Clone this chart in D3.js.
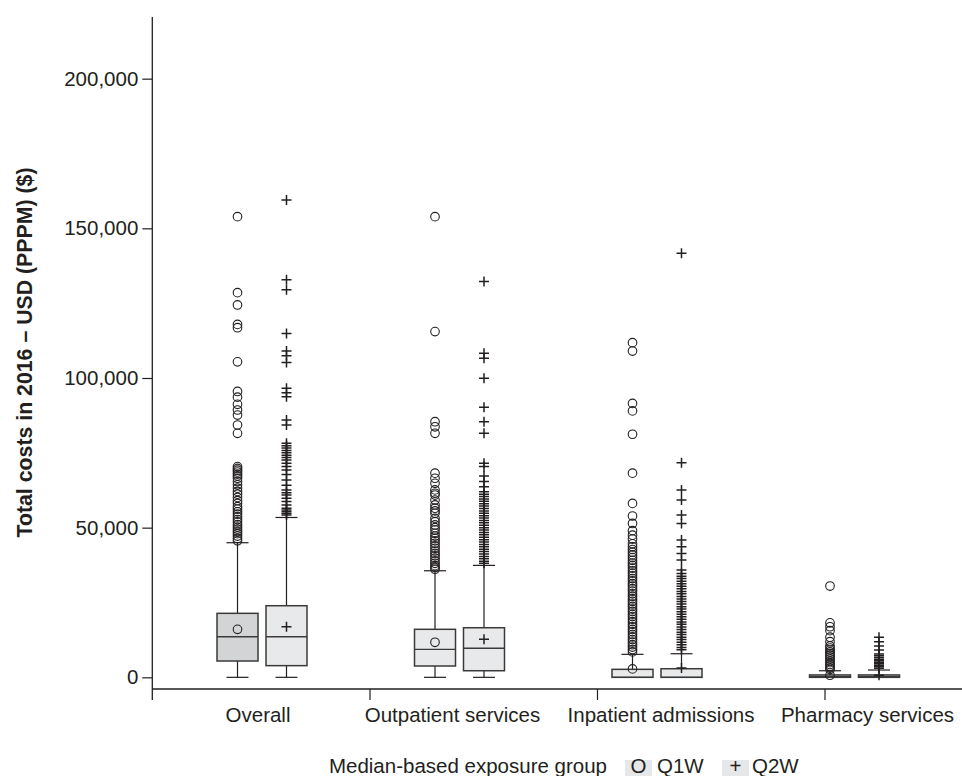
<!DOCTYPE html>
<html>
<head>
<meta charset="utf-8">
<script src="https://cdn.jsdelivr.net/npm/d3@7"></script>
<style>
  body { margin: 0; background: #fff; }
  svg { display: block; }
  text { font-family: "Liberation Sans", Arial, Helvetica, sans-serif; fill: #231f20; }
</style>
</head>
<body>
<svg id="chart" width="962" height="776"></svg>
<script>
// ---------------- DATA ----------------
const categories = ["Overall", "Outpatient services", "Inpatient admissions", "Pharmacy services"];
const groups = ["Q1W", "Q2W"];
const yTicks = [0, 50000, 100000, 150000, 200000];
const yTitle = "Total costs in 2016 \u2013 USD (PPPM) ($)";
const legendTitle = "Median-based exposure group";

// Q1W box statistics per category
const q1wLow    = [0, 0, 0, 0];
const q1wQ1     = [5450, 3780, 0, 0];
const q1wMedian = [13570, 9350, 0, 300];
const q1wQ3     = [21380, 16040, 2670, 800];
const q1wHigh   = [44970, 35600, 7680, 2200];
const q1wMean   = [16040, 11700, 2800, 700];

// Q2W box statistics per category
const q2wLow    = [0, 0, 0, 0];
const q2wQ1     = [3900, 2200, 0, 0];
const q2wMedian = [13570, 9690, 0, 300];
const q2wQ3     = [23920, 16570, 2870, 800];
const q2wHigh   = [53400, 37400, 7880, 2440];
const q2wMean   = [16900, 12700, 3100, 700];

// Outliers
const q1wOutliers = [
  [153900, 128500, 124400, 117900, 116800, 105400, 95500, 93600, 91200, 89300, 87600, 84300, 81500,
   70400, 69800, 69200, 68600, 67900, 67300, 66500, 65400, 64300, 63200, 62100, 61200, 60100, 59000,
   58100, 57000, 56200, 55300, 54500, 53600, 52700, 51900, 51000, 50200, 49500, 48700, 48000, 47200,
   46400, 45600],
  [153900, 115500, 85400, 83700, 81500, 68200, 66500, 64800, 62600, 61500, 60900, 59200, 57600, 56500,
   55600, 54800, 53100, 52000, 50900, 50000, 49200, 48100, 47200, 46400, 45600, 44800, 43900, 43100,
   42200, 41400, 40600, 39800, 38900, 38100, 37300, 36700, 36100],
  [111800, 109000, 91500, 89000, 81200, 68200, 58100, 53900, 51400, 49000, 47500, 46200, 44600, 43600,
   42700, 41800, 40900, 40000, 39100, 38200, 37400, 36500, 35600, 34800, 33900, 33000, 32200, 31300,
   30500, 29600, 28800, 27900, 27100, 26200, 25400, 24500, 23700, 22800, 22000, 21100, 20300, 19400,
   18600, 17700, 16900, 16000, 15200, 14300, 13500, 12600, 11800, 10900, 10100, 9300, 8500],
  [30500, 18200, 16900, 15600, 13400, 11900, 10500, 9800, 9100, 8500, 7900, 7300, 6700, 6100, 5500,
   4900, 4300, 3700, 3100, 2600]
];
const q2wOutliers = [
  [159500, 132800, 129500, 114900, 109000, 107400, 105200, 96600, 95100, 93700, 86000, 84300, 78200,
   77400, 76600, 75800, 75000, 74200, 73400, 72600, 71500, 70400, 69300, 67800, 65900, 64200, 62600,
   61700, 60900, 59800, 58700, 57600, 56500, 55900, 55300, 54700, 54200],
  [132200, 108300, 106600, 99900, 90200, 85400, 81500, 71500, 70400, 67300, 65400, 63700, 62000, 61200,
   60400, 59600, 58800, 58000, 57200, 56400, 55600, 54800, 54000, 53200, 52400, 51600, 50800, 50000,
   49200, 48400, 47600, 46800, 46000, 45200, 44400, 43600, 42800, 42000, 41200, 40400, 39600, 38800,
   38100],
  [141700, 71700, 62600, 59200, 54200, 51400, 45900, 43600, 41400, 39200, 35850, 34700, 33800, 33000,
   32100, 31300, 30400, 29600, 28700, 27900, 27000, 26200, 25300, 24500, 23600, 22800, 21900, 21100,
   20200, 19400, 18500, 17700, 16800, 16000, 15100, 14300, 13400, 12600, 11700, 10900, 10000, 9200],
  [13400, 11900, 10500, 9100, 7800, 7200, 6600, 6000, 5500, 5000, 4500, 4000, 3500, 3000]
];

// ---------------- LAYOUT ----------------
const svg = d3.select("#chart");
const ink = "#231f20";
const fontSize = 20.5;

const y = d3.scaleLinear().domain([-3900, 220600]).range([689, 17]);
const x = d3.scaleBand().domain(categories).range([163.25, 953.25]);
const inner = d3.scaleBand().domain(groups).range([-45, 45]).paddingInner(0.163);
const tickScale = d3.scaleBand().domain(categories).range([142.5, 1052.5]);
const axisX = 152.3;
const baseY = y(-3900);

const stats = {
  Q1W: { low: q1wLow, q1: q1wQ1, med: q1wMedian, q3: q1wQ3, high: q1wHigh, mean: q1wMean, out: q1wOutliers },
  Q2W: { low: q2wLow, q1: q2wQ1, med: q2wMedian, q3: q2wQ3, high: q2wHigh, mean: q2wMean, out: q2wOutliers }
};

// ---------------- AXES ----------------
// y axis
const yAxis = svg.append("g")
  .attr("transform", `translate(${axisX},0)`)
  .call(d3.axisLeft(y).tickValues(yTicks).tickSize(10).tickPadding(4).tickFormat(d3.format(",")));
yAxis.select(".domain").remove();
yAxis.selectAll(".tick line").attr("stroke", ink).attr("stroke-width", 1.2);
yAxis.selectAll(".tick text")
  .style("font-size", fontSize + "px")
  .attr("fill", ink);

svg.append("line")
  .attr("x1", axisX).attr("x2", axisX)
  .attr("y1", y(220600)).attr("y2", baseY + 11)
  .attr("stroke", ink).attr("stroke-width", 1.3);

// x axis line
svg.append("line")
  .attr("x1", axisX).attr("x2", 962)
  .attr("y1", baseY).attr("y2", baseY)
  .attr("stroke", ink).attr("stroke-width", 1.3);

// x axis tick marks
svg.selectAll("line.xtick")
  .data(categories.slice(1))
  .join("line")
  .attr("class", "xtick")
  .attr("x1", d => tickScale(d)).attr("x2", d => tickScale(d))
  .attr("y1", baseY).attr("y2", baseY + 11)
  .attr("stroke", ink).attr("stroke-width", 1.2);

// x labels
const labelNudge = [-4, -7, 4, 13];
svg.selectAll("text.xlabel")
  .data(categories)
  .join("text")
  .attr("class", "xlabel")
  .attr("x", (d, i) => x(d) + x.bandwidth() / 2 + labelNudge[i])
  .attr("y", 721.5)
  .attr("text-anchor", "middle")
  .style("font-size", fontSize + "px")
  .text(d => d);

// y title
svg.append("text")
  .attr("transform", `translate(31.5,352.5) rotate(-90)`)
  .attr("text-anchor", "middle")
  .style("font-size", "21.3px")
  .style("font-weight", "bold")
  .text(yTitle);

// ---------------- MARKS ----------------
const boxW = inner.bandwidth();
const capW = 22;

function drawMarker(g, group, cx, cy) {
  if (group === "Q1W") {
    g.append("circle").attr("cx", cx).attr("cy", cy).attr("r", 4.3)
      .attr("fill", "none").attr("stroke", ink).attr("stroke-width", 1.1);
  } else {
    g.append("path")
      .attr("d", `M${cx - 5},${cy}H${cx + 5}M${cx},${cy - 5}V${cy + 5}`)
      .attr("fill", "none").attr("stroke", ink).attr("stroke-width", 1.5);
  }
}

categories.forEach((cat, i) => {
  groups.forEach(grp => {
    const s = stats[grp];
    const cx = x(cat) + x.bandwidth() / 2 + inner(grp) + boxW / 2;
    const g = svg.append("g");
    // whisker line
    g.append("line")
      .attr("x1", cx).attr("x2", cx)
      .attr("y1", y(s.low[i])).attr("y2", y(s.high[i]))
      .attr("stroke", ink).attr("stroke-width", 1.2);
    // caps
    [s.low[i], s.high[i]].forEach(v => {
      g.append("line")
        .attr("x1", cx - capW / 2).attr("x2", cx + capW / 2)
        .attr("y1", y(v)).attr("y2", y(v))
        .attr("stroke", ink).attr("stroke-width", 1.2);
    });
    // box
    const fill = (i === 0 && grp === "Q1W") ? "#d3d4d6" : "#e8e9ea";
    g.append("rect")
      .attr("x", cx - boxW / 2).attr("width", boxW)
      .attr("y", y(s.q3[i])).attr("height", Math.max(1, y(s.q1[i]) - y(s.q3[i])))
      .attr("fill", fill).attr("stroke", "#3a3a3a").attr("stroke-width", 1.5);
    // median
    g.append("line")
      .attr("x1", cx - boxW / 2).attr("x2", cx + boxW / 2)
      .attr("y1", y(s.med[i])).attr("y2", y(s.med[i]))
      .attr("stroke", "#3a3a3a").attr("stroke-width", 1.4);
    // mean
    drawMarker(g, grp, cx, y(s.mean[i]));
    // outliers
    s.out[i].forEach(v => drawMarker(g, grp, cx, y(v)));
  });
});

// ---------------- LEGEND ----------------
const legY = 773;
svg.append("text")
  .attr("x", 607).attr("y", legY)
  .attr("text-anchor", "end")
  .style("font-size", fontSize + "px")
  .text(legendTitle);

const legendItems = [
  { key: groups[0], glyph: "O", sx: 625, tx: 657 },
  { key: groups[1], glyph: "+", sx: 722, tx: 752 }
];
legendItems.forEach(it => {
  svg.append("rect")
    .attr("x", it.sx).attr("y", 760).attr("width", 27).attr("height", 22)
    .attr("fill", "#e6e7e8");
  svg.append("text")
    .attr("x", it.sx + 13.5).attr("y", legY)
    .attr("text-anchor", "middle")
    .style("font-size", fontSize + "px")
    .text(it.glyph);
  svg.append("text")
    .attr("x", it.tx).attr("y", legY)
    .style("font-size", fontSize + "px")
    .text(it.key);
});
</script>
</body>
</html>
